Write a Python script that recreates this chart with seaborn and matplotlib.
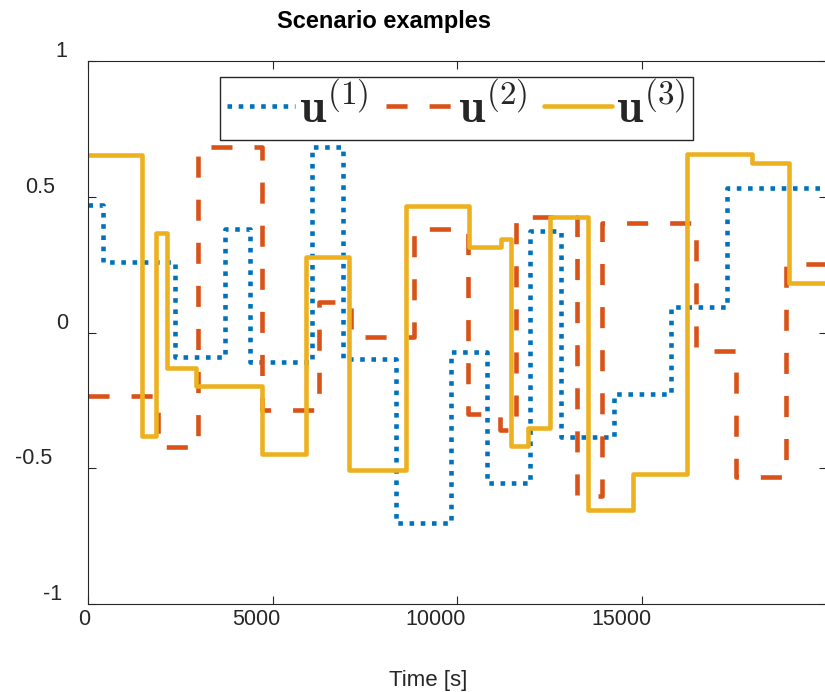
import numpy as np
import pandas as pd
import matplotlib
matplotlib.use("Agg")
import matplotlib.pyplot as plt
from matplotlib.transforms import ScaledTranslation
import seaborn as sns

# ---- data (step change times [s] and levels) ----
t1 = [0, 390, 2350, 3700, 4380, 6050, 6900, 8330, 9820, 10800, 11980, 12800, 14240, 15780, 17310]
v1 = [0.47, 0.26, -0.09, 0.38, -0.107, 0.685, -0.096, -0.70, -0.072, -0.554, 0.375, -0.385, -0.225, 0.093, 0.532]

t2 = [0, 1900, 2980, 4710, 6260, 7130, 8830, 10290, 11150, 11600, 13250, 13930, 16470, 17540, 18910]
v2 = [-0.234, -0.42, 0.685, -0.284, 0.114, -0.015, 0.383, -0.30, -0.36, 0.424, -0.60, 0.403, -0.066, -0.532, 0.252]

t3 = [0, 1460, 1830, 2140, 2920, 4700, 5910, 7070, 8600, 10320, 11170, 11440, 11920, 12500, 13540, 14760, 16230, 17980, 18980]
v3 = [0.654, -0.379, 0.366, -0.131, -0.195, -0.446, 0.277, -0.507, 0.467, 0.317, 0.344, -0.419, -0.352, 0.424, -0.652, -0.522, 0.659, 0.626, 0.183]

t_end = 20000
series_labels = [r"$\mathbf{u}^{(1)}$", r"$\mathbf{u}^{(2)}$", r"$\mathbf{u}^{(3)}$"]
xtick_vals = [0, 5000, 10000, 15000]
xtick_labels = ["0", "5000", "10000", "15000"]
ytick_vals = [-1, -0.5, 0, 0.5, 1]
ytick_labels = ["-1", "-0.5", "0", "0.5", "1"]
title_text = "Scenario examples"
xlabel_text = "Time [s]"

# ---- style ----
sns.set_style("white")
plt.rcParams["font.family"] = ["Liberation Sans", "DejaVu Sans"]
plt.rcParams["mathtext.fontset"] = "cm"

colors = ["#0072BD", "#D95319", "#EDB120"]
dash_patterns = [(1.0, 1.45), (4.6, 4.8), None]
LW = 3.3
DARK = "#262626"

W, H = 825, 692
fig = plt.figure(figsize=(W / 100, H / 100), dpi=100)
ax = fig.add_axes([88.3 / W, (H - 604.3) / H, (826.5 - 88.3) / W, (604.3 - 61) / H])

for t, v, c, d, lab in zip([t1, t2, t3], [v1, v2, v3], colors, dash_patterns, series_labels):
    df = pd.DataFrame({"t": list(t) + [t_end], "u": list(v) + [v[-1]]})
    sns.lineplot(data=df, x="t", y="u", ax=ax, color=c, lw=LW, estimator=None,
                 drawstyle="steps-post", legend=False)
    line = ax.lines[-1]
    line.set_label(lab)
    if d is not None:
        line.set_dashes(d)
        line.set_dash_capstyle("butt")
    else:
        line.set_solid_joinstyle("round")

ax.set_xlim(0, t_end)
ax.set_ylim(-1, 1)
ax.set_xlabel("")
ax.set_ylabel("")
ax.set_xticks(xtick_vals)
ax.set_xticklabels(xtick_labels)
ax.set_yticks(ytick_vals)
ax.set_yticklabels(ytick_labels)

for s in ax.spines.values():
    s.set_visible(True)
    s.set_color(DARK)
    s.set_linewidth(0.8)

ax.tick_params(axis="both", which="major", direction="in", length=5.8, width=0.8,
               color=DARK, labelcolor=DARK, labelsize=15.5,
               top=True, right=True, bottom=True, left=True)
ax.tick_params(axis="x", pad=3.5)
ax.tick_params(axis="y", pad=11)

# MATLAB-export-like tick label offsets
xdx = [-4, -17, -22, -21]
for labt, dx in zip(ax.get_xticklabels(), xdx):
    labt.set_transform(labt.get_transform() + ScaledTranslation(dx / 100, 0, fig.dpi_scale_trans))
ydx = [-11, -21, -5, -18, -6]
for labt, dx in zip(ax.get_yticklabels(), ydx):
    labt.set_transform(labt.get_transform() + ScaledTranslation(dx / 100, 12 / 100, fig.dpi_scale_trans))

fig.text(384 / W, (H - 28) / H, title_text, ha="center", va="baseline",
         fontsize=17, fontweight="bold", color="black")
fig.text(428 / W, (H - 686) / H, xlabel_text, ha="center", va="baseline",
         fontsize=16, color=DARK)

leg = ax.legend(handles=ax.lines, labels=series_labels, ncol=3,
                loc="upper left", bbox_to_anchor=(220 / W, 1 - 77.3 / H),
                bbox_transform=fig.transFigure, borderaxespad=0,
                fontsize=34, handlelength=1.44, handletextpad=0.09,
                columnspacing=0.36, borderpad=0.15, frameon=True, fancybox=False)
leg.get_frame().set_edgecolor(DARK)
leg.get_frame().set_linewidth(1.0)
leg.get_frame().set_alpha(1)

fig.savefig("out.png", dpi=100)
